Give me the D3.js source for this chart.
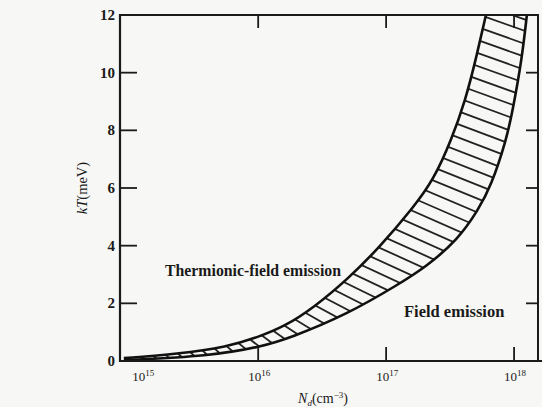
<!DOCTYPE html>
<html>
<head>
<meta charset="utf-8">
<script src="https://cdn.jsdelivr.net/npm/d3@7"></script>
<style>
  html, body { margin: 0; padding: 0; background: #f7f7f5; }
  svg { display: block; }
  text { font-family: "Liberation Serif", "DejaVu Serif", serif; fill: #1a1a1a; }
</style>
</head>
<body>
<svg id="chart" width="542" height="407"></svg>
<script>
// Donor concentration decades shown on the N_d axis
const xTickExponents = [15, 16, 17, 18];
// kT ticks (meV)
const yTicks = [0, 2, 4, 6, 8, 10, 12];

// Upper/left boundary of the transition band: log10(N_d) and kT (meV)
const upperLogN = [14.95, 15.37, 15.76, 16.00, 16.21, 16.43, 16.70, 16.95, 17.21, 17.37, 17.51, 17.62, 17.70, 17.78];
const upperKT   = [0.10, 0.24, 0.49, 0.83, 1.21, 1.84, 2.84, 3.95, 5.31, 6.28, 7.67, 9.05, 10.44, 12.0];

// Lower/right boundary of the transition band
const lowerLogN = [14.95, 15.62, 16.02, 16.25, 16.70, 17.09, 17.31, 17.56, 17.72, 17.82, 17.94, 17.99, 18.06, 18.10];
const lowerKT   = [0.03, 0.17, 0.49, 0.80, 1.63, 2.64, 3.26, 4.20, 5.24, 6.07, 7.67, 8.71, 10.44, 12.0];

// Region names
const regionLabels = ["Thermionic-field emission", "Field emission"];

const svg = d3.select("#chart");
const pLeft = 120, pRight = 538, pTop = 15, pBottom = 361;

const x = d3.scaleLog().domain([Math.pow(10, 14.92), Math.pow(10, 18.187)]).range([pLeft, pRight]);
const y = d3.scaleLinear().domain([0, 12]).range([pBottom, pTop]);

const upperPts = upperLogN.map((l, i) => [x(Math.pow(10, l)), y(upperKT[i])]);
const lowerPts = lowerLogN.map((l, i) => [x(Math.pow(10, l)), y(lowerKT[i])]);

const line = d3.line().curve(d3.curveBasis);
const upperPath = line(upperPts);
const lowerPath = line(lowerPts);
const lowerRev = line(lowerPts.slice().reverse());
const bandPath = upperPath + lowerRev.replace(/^M/, "L") + "Z";

const defs = svg.append("defs");
defs.append("clipPath").attr("id", "band").append("path").attr("d", bandPath);
defs.append("clipPath").attr("id", "plot").append("rect")
  .attr("x", pLeft).attr("y", pTop).attr("width", pRight - pLeft).attr("height", pBottom - pTop);

const plotG = svg.append("g").attr("clip-path", "url(#plot)");
const upperEl = plotG.append("path").attr("d", upperPath).attr("fill", "none").attr("stroke", "none");

// Hatching inside the band, laid out along the upper boundary;
// the hatch tilt follows the local slope of the band
const tiltFor = d3.scaleLinear().domain([-80, -44, -10]).range([19, 25, 42]).clamp(true);
const hatchG = plotG.append("g").attr("clip-path", "url(#band)");
const node = upperEl.node();
const total = node.getTotalLength();
const step = 12.3;
for (let s = 5; s < total + 30; s += step) {
  const sc = Math.min(s, total - 1.5);
  const p = node.getPointAtLength(sc);
  const q = node.getPointAtLength(Math.min(sc + 1.5, total));
  const p0 = node.getPointAtLength(Math.max(sc - 1.5, 0));
  let tx = q.x - p0.x, ty = q.y - p0.y;
  const n = Math.hypot(tx, ty) || 1;
  tx /= n; ty /= n;
  const tDeg = Math.atan2(ty, tx) * 180 / Math.PI;
  const h = tiltFor(tDeg) * Math.PI / 180;
  const dx = Math.cos(h), dy = Math.sin(h);
  const extra = s > total ? (s - total) : 0;
  const px = p.x + extra * tx, py = p.y + extra * ty;
  hatchG.append("line")
    .attr("x1", px - dx * 90).attr("y1", py - dy * 90)
    .attr("x2", px + dx * 90).attr("y2", py + dy * 90)
    .attr("stroke", "#222").attr("stroke-width", 1.8);
}
// Band boundaries
plotG.append("path").attr("d", upperPath).attr("fill", "none")
  .attr("stroke", "#111").attr("stroke-width", 2.6);
plotG.append("path").attr("d", lowerPath).attr("fill", "none")
  .attr("stroke", "#111").attr("stroke-width", 2.6);

// Frame
const frame = svg.append("g").attr("stroke", "#1a1a1a").attr("fill", "none");
frame.append("line").attr("x1", pLeft).attr("y1", pTop - 1).attr("x2", pLeft).attr("y2", pBottom + 1).attr("stroke-width", 2.2);
frame.append("line").attr("x1", pLeft - 1).attr("y1", pBottom).attr("x2", 542).attr("y2", pBottom).attr("stroke-width", 2.2);
frame.append("line").attr("x1", pLeft - 1).attr("y1", pTop).attr("x2", pRight + 1).attr("y2", pTop).attr("stroke-width", 2);
frame.append("line").attr("x1", pRight).attr("y1", pTop).attr("x2", pRight).attr("y2", pBottom).attr("stroke-width", 2);

// Y ticks (inward on both sides)
yTicks.filter(v => v > 0 && v < 12).forEach(v => {
  frame.append("line").attr("x1", pLeft).attr("x2", pLeft + 17).attr("y1", y(v)).attr("y2", y(v)).attr("stroke-width", 1.8);
  frame.append("line").attr("x1", pRight).attr("x2", pRight - 12).attr("y1", y(v)).attr("y2", y(v)).attr("stroke-width", 1.8);
});
// X ticks (inward on bottom and top)
xTickExponents.filter(e => e > 15).forEach(e => {
  const xx = x(Math.pow(10, e));
  frame.append("line").attr("x1", xx).attr("x2", xx).attr("y1", pBottom).attr("y2", pBottom - 14).attr("stroke-width", 1.8);
  frame.append("line").attr("x1", xx).attr("x2", xx).attr("y1", pTop).attr("y2", pTop + 13).attr("stroke-width", 1.8);
});

// Y tick labels
svg.append("g").selectAll("text").data(yTicks).join("text")
  .attr("x", pLeft - 5).attr("y", d => y(d) + 5)
  .attr("text-anchor", "end").attr("font-size", 15).attr("font-weight", "bold")
  .text(d => d);

// X tick labels: 10^n
const xl = svg.append("g").selectAll("text").data(xTickExponents).join("text")
  .attr("x", d => x(Math.pow(10, d)) + (d === 15 ? 13 : 1)).attr("y", 381)
  .attr("text-anchor", "middle").attr("font-size", 13);
xl.append("tspan").text("10");
xl.append("tspan").attr("dy", -5).attr("font-size", 9).text(d => d);

// Axis titles
const xt = svg.append("text").attr("x", 323).attr("y", 403).attr("text-anchor", "middle").attr("font-size", 14);
xt.append("tspan").attr("font-style", "italic").text("N");
xt.append("tspan").attr("dy", 3).attr("font-size", 9).attr("font-style", "italic").text("d");
xt.append("tspan").attr("dy", -3).text("(cm");
xt.append("tspan").attr("dy", -5).attr("font-size", 9).text("−3");
xt.append("tspan").attr("dy", 5).text(")");

const yt = svg.append("text").attr("transform", "translate(87,188) rotate(-90)")
  .attr("text-anchor", "middle").attr("font-size", 14.5);
yt.append("tspan").attr("font-style", "italic").text("kT");
yt.append("tspan").text("(meV)");

// Region labels
svg.append("text").attr("x", 165).attr("y", 276).attr("font-size", 15.8).attr("font-weight", "bold")
  .text(regionLabels[0]);
svg.append("text").attr("x", 404).attr("y", 317).attr("font-size", 16.5).attr("font-weight", "bold")
  .text(regionLabels[1]);
</script>
</body>
</html>
